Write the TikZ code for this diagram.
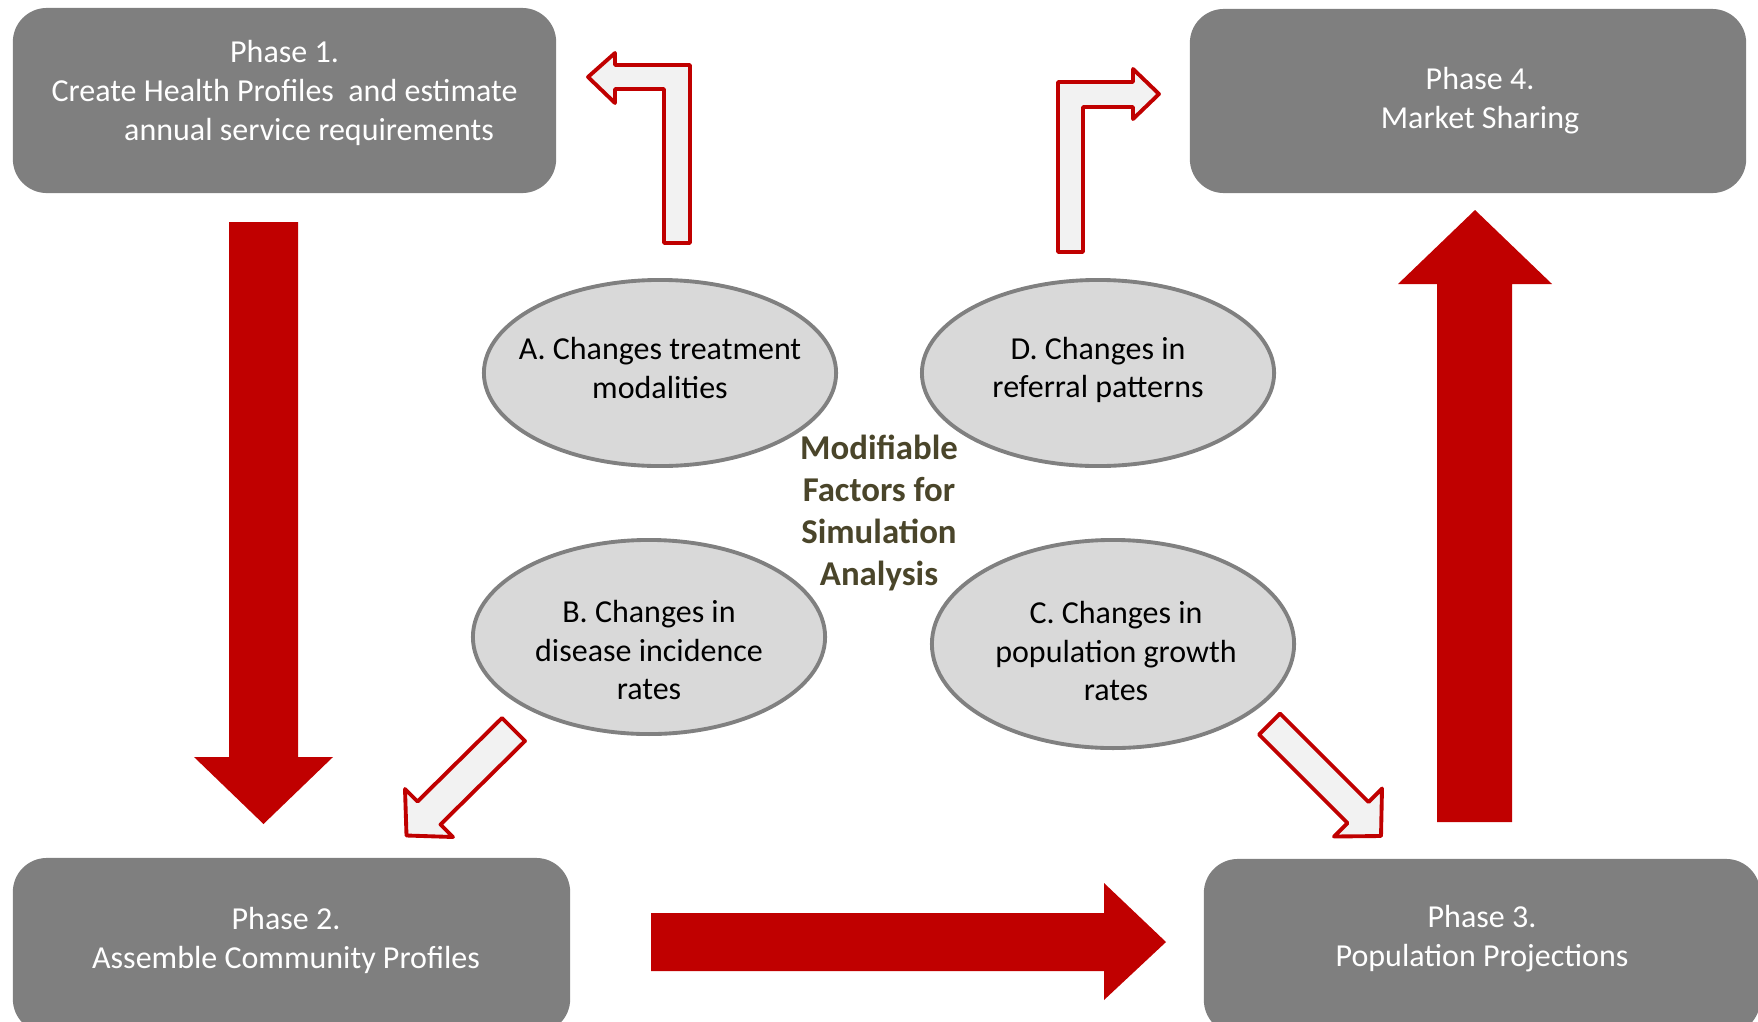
\documentclass[tikz,border=0pt]{standalone}
\usepackage{fontspec}
\setmainfont{Carlito}
\usepackage{xcolor}
\usepackage{tikz}
\usetikzlibrary{shapes.geometric}
\definecolor{phasegray}{HTML}{7F7F7F}
\definecolor{ellgray}{HTML}{D9D9D9}
\definecolor{rimgray}{HTML}{808080}
\definecolor{flowred}{HTML}{C00000}
\definecolor{openfill}{HTML}{F2F2F2}
\definecolor{olivetext}{HTML}{4A452A}
\tikzset{
  phasebox/.style={fill=phasegray, rounded corners=0.34cm, text=white, align=center,
    font=\fontsize{9.1}{11.1}\selectfont},
  factor/.style={ellipse, fill=ellgray, draw=rimgray, line width=1.1pt, inner sep=0pt},
  factortxt/.style={align=center, font=\fontsize{9.1}{10.9}\selectfont},
  solid/.style={fill=flowred},
  open/.style={fill=openfill, draw=flowred, line width=1.1pt, line join=round},
  hub/.style={align=center, text=olivetext, font=\fontsize{9.9}{11.9}\selectfont\bfseries},
}

\begin{document}
\begin{tikzpicture}[x=0.01cm, y=-0.01cm]
  \path[use as bounding box, clip] (0,0) rectangle (1758,1021);
  % phases
  \node[phasebox, minimum width=5.43cm, minimum height=1.85cm, text depth=0.21cm] (p1) at (284.5,100.5)
    {Phase 1.\\Create Health Profiles \ and estimate\\\hspace*{0.49cm}annual service requirements};
  \node[phasebox, minimum width=5.56cm, minimum height=1.84cm] (p4) at (1468,101)
    {\hspace*{0.24cm}Phase 4.\\\hspace*{0.24cm}Market Sharing};
  \node[phasebox, minimum width=5.57cm, minimum height=1.75cm, text depth=0.15cm] (p2) at (291.5,945.5)
    {Phase 2.\hspace*{0.11cm}\\Assemble Community Profiles\hspace*{0.11cm}};
  \node[phasebox, minimum width=5.56cm, minimum height=1.75cm, text depth=0.21cm] (p3) at (1482,946.5)
    {Phase 3.\\Population Projections};
  % modifiable factors
  \node[factor, minimum width=3.52cm, minimum height=1.86cm] (fa) at (660,373) {};
  \node[factor, minimum width=3.52cm, minimum height=1.86cm] (fd) at (1098,373) {};
  \node[factor, minimum width=3.52cm, minimum height=1.94cm] (fb) at (649,637) {};
  \node[factor, minimum width=3.62cm, minimum height=2.08cm] (fc) at (1113,644) {};
  \node[factortxt] (ta) at (660,368) {A. Changes treatment\\modalities};
  \node[factortxt] (td) at (1098,370) {D. Changes in\\referral patterns};
  \node[factortxt] (tb) at (649,650) {B. Changes in\\disease incidence\\rates};
  \node[factortxt] (tc) at (1116,651) {C. Changes in\\population growth\\rates};
  \node[hub] (mf) at (879,513) {Modifiable\\Factors for\\Simulation\\Analysis};
  % main flow
  \fill[solid] (229,222) -- (298,222) -- (298,757) -- (333,757) -- (263.5,824)
    -- (194,757) -- (229,757) -- cycle;
  \fill[solid] (651,913) -- (1104,913) -- (1104,883) -- (1166,942) -- (1104,1000)
    -- (1104,971) -- (651,971) -- cycle;
  \fill[solid] (1437,822) -- (1437,284) -- (1398,284) -- (1475,210) -- (1552,284)
    -- (1512,284) -- (1512,822) -- cycle;
  % factor arrows
  \draw[open] (664,243) -- (664,89) -- (615,89) -- (615,103) -- (588,77) -- (615,53)
    -- (615,65) -- (690,65) -- (690,243) -- cycle;
  \draw[open] (1058,252) -- (1058,82) -- (1133,82) -- (1133,69) -- (1159,94)
    -- (1133,119) -- (1133,107) -- (1083,107) -- (1083,252) -- cycle;
  \draw[open] (502,718) -- (417.5,801.5) -- (405,789) -- (406.5,835.5) -- (453,837)
    -- (440.5,824.5) -- (525,741) -- cycle;
  \draw[open] (1259,734.5) -- (1347.5,823) -- (1334,836.5) -- (1381,836) -- (1382,788.5)
    -- (1368.5,802) -- (1280,713.5) -- cycle;
\end{tikzpicture}
\end{document}
